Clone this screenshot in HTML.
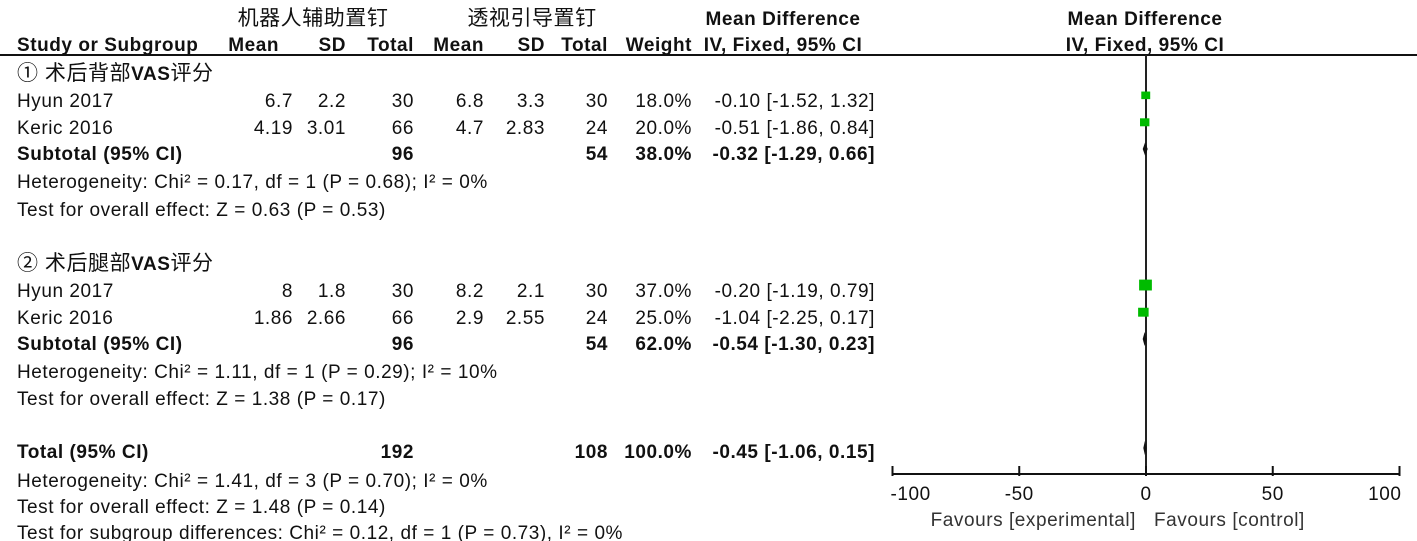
<!DOCTYPE html>
<html><head><meta charset="utf-8"><style>
html,body{margin:0;padding:0;background:#fff;}
svg{display:block;font-family:"Liberation Sans","Noto Sans CJK SC",sans-serif;font-size:19px;letter-spacing:0.55px;fill:#111;}
.b{font-weight:bold;}
.cj{font-size:21px;}
</style></head><body>
<svg id="chart" width="1417" height="541" viewBox="0 0 1417 541" xmlns="http://www.w3.org/2000/svg">
<g>
<text x="313" y="25" text-anchor="middle" class="cj">机器人辅助置钉</text>
<text x="532" y="25" text-anchor="middle" class="cj">透视引导置钉</text>
<text x="783" y="25" text-anchor="middle" class="b">Mean Difference</text>
<text x="1145" y="25" text-anchor="middle" class="b">Mean Difference</text>
<text x="17" y="51" class="b">Study or Subgroup</text>
<text x="279" y="51" text-anchor="end" class="b">Mean</text>
<text x="346" y="51" text-anchor="end" class="b">SD</text>
<text x="414" y="51" text-anchor="end" class="b">Total</text>
<text x="484" y="51" text-anchor="end" class="b">Mean</text>
<text x="545" y="51" text-anchor="end" class="b">SD</text>
<text x="608" y="51" text-anchor="end" class="b">Total</text>
<text x="692" y="51" text-anchor="end" class="b">Weight</text>
<text x="783" y="51" text-anchor="middle" class="b">IV, Fixed, 95% CI</text>
<text x="1145" y="51" text-anchor="middle" class="b">IV, Fixed, 95% CI</text>
<rect x="0" y="54" width="1417" height="2" fill="#111"/>
<text x="17" y="80"><tspan class="cj">① 术后背部</tspan><tspan class="b">VAS</tspan><tspan class="cj">评分</tspan></text>
<text x="17" y="270"><tspan class="cj">② 术后腿部</tspan><tspan class="b">VAS</tspan><tspan class="cj">评分</tspan></text>
</g>
<g id="table"></g>
<g id="plot"></g>
</svg>
<script>
const studies = ["Hyun 2017","Keric 2016","Hyun 2017","Keric 2016"];
const mean1 = ["6.7","4.19","8","1.86"];
const sd1 = ["2.2","3.01","1.8","2.66"];
const n1 = [30,66,30,66];
const mean2 = ["6.8","4.7","8.2","2.9"];
const sd2 = ["3.3","2.83","2.1","2.55"];
const n2 = [30,24,30,24];
const weights = [18.0,20.0,37.0,25.0];
const md = [-0.10,-0.51,-0.20,-1.04];
const lo = [-1.52,-1.86,-1.19,-2.25];
const hi = [1.32,0.84,0.79,0.17];
const sumLabels = ["Subtotal (95% CI)","Subtotal (95% CI)","Total (95% CI)"];
const sumN1 = [96,96,192];
const sumN2 = [54,54,108];
const sumW = [38.0,62.0,100.0];
const sumMd = [-0.32,-0.54,-0.45];
const sumLo = [-1.29,-1.30,-1.06];
const sumHi = [0.66,0.23,0.15];
const ticks = [-100,-50,0,50,100];
const NS="http://www.w3.org/2000/svg";
const X0=1146, SC=2.535, AXY=474;
function xs(v){return X0+v*SC;}
const table=document.getElementById('table'), plot=document.getElementById('plot');
function txt(parent,x,y,s,anchor,bold,name){
  const t=document.createElementNS(NS,'text');
  t.setAttribute('x',x);t.setAttribute('y',y);
  if(anchor)t.setAttribute('text-anchor',anchor);
  if(bold)t.setAttribute('class','b');
  t.textContent=s;
  
  
  parent.appendChild(t);return t;
}
function f2(v){return v.toFixed(2);}
const cols=[[mean1,293],[sd1,346],[n1,414],[mean2,484],[sd2,545],[n2,608]];
const stY=[107,134,297,324];
const mkY=[96,123,286,313];
for(let i=0;i<studies.length;i++){
  const y=stY[i];
  txt(table,17,y,studies[i],null,false,'study-name');
  cols.forEach(c=>txt(table,c[1],y,String(c[0][i]),'end',false,'study-value'));
  txt(table,692,y,weights[i].toFixed(1)+'%','end',false,'study-weight');
  txt(table,875,y,f2(md[i])+' ['+f2(lo[i])+', '+f2(hi[i])+']','end',false,'study-ci');
  const s=Math.sqrt(weights[i])*2.1;
  const r=document.createElementNS(NS,'rect');
  r.setAttribute('x',xs(md[i])-s/2);r.setAttribute('y',mkY[i]-s/2);
  r.setAttribute('width',s);r.setAttribute('height',s*0.85);r.setAttribute('fill','#00bb00');
  
  
  plot.appendChild(r);
}
const sY=[160,350,458], dY=[149,339,448];
for(let i=0;i<3;i++){
  const y=sY[i];
  txt(table,17,y,sumLabels[i],null,true,'summary-label');
  txt(table,414,y,String(sumN1[i]),'end',true,'summary-total1');
  txt(table,608,y,String(sumN2[i]),'end',true,'summary-total2');
  txt(table,692,y,sumW[i].toFixed(1)+'%','end',true,'summary-weight');
  txt(table,875,y,f2(sumMd[i])+' ['+f2(sumLo[i])+', '+f2(sumHi[i])+']','end',true,'summary-ci');
  const p=document.createElementNS(NS,'polygon');
  const c=dY[i];
  p.setAttribute('points',`${xs(sumLo[i])},${c} ${xs(sumMd[i])},${c-7} ${xs(sumHi[i])},${c} ${xs(sumMd[i])},${c+7}`);
  p.setAttribute('fill','#111');
  
  
  plot.appendChild(p);
}
txt(table,17,188,'Heterogeneity: Chi² = 0.17, df = 1 (P = 0.68); I² = 0%',null,false,'heterogeneity-1');
txt(table,17,216,'Test for overall effect: Z = 0.63 (P = 0.53)',null,false,'overall-effect-1');
txt(table,17,378,'Heterogeneity: Chi² = 1.11, df = 1 (P = 0.29); I² = 10%',null,false,'heterogeneity-2');
txt(table,17,405,'Test for overall effect: Z = 1.38 (P = 0.17)',null,false,'overall-effect-2');
txt(table,17,487,'Heterogeneity: Chi² = 1.41, df = 3 (P = 0.70); I² = 0%',null,false,'heterogeneity-total');
txt(table,17,513,'Test for overall effect: Z = 1.48 (P = 0.14)',null,false,'overall-effect-total');
txt(table,17,539,'Test for subgroup differences: Chi² = 0.12, df = 1 (P = 0.73), I² = 0%',null,false,'subgroup-differences');
const zl=document.createElementNS(NS,'line');
zl.setAttribute('x1',xs(0));zl.setAttribute('x2',xs(0));zl.setAttribute('y1',55);zl.setAttribute('y2',AXY);
zl.setAttribute('stroke','#222');zl.setAttribute('stroke-width',2);


plot.insertBefore(zl,plot.firstChild);
const ax=document.createElementNS(NS,'line');
ax.setAttribute('x1',xs(-100));ax.setAttribute('x2',xs(100));ax.setAttribute('y1',AXY);ax.setAttribute('y2',AXY);
ax.setAttribute('stroke','#111');ax.setAttribute('stroke-width',2);


plot.appendChild(ax);
ticks.forEach(t=>{
  const l=document.createElementNS(NS,'line');
  l.setAttribute('x1',xs(t));l.setAttribute('x2',xs(t));l.setAttribute('y1',AXY-8);l.setAttribute('y2',AXY+2);
  l.setAttribute('stroke','#111');l.setAttribute('stroke-width',2);
  
  
  plot.appendChild(l);
  const anchor=t===-100?'start':(t===100?'end':'middle');
  txt(plot,t===-100?xs(t)-2:(t===100?xs(t)+2:xs(t)),AXY+26,String(t),anchor,false,'x-tick-label');
});
const fe=txt(plot,1136,526,'Favours [experimental]','end',false,'favours-experimental');fe.setAttribute('fill','#333');
const fc=txt(plot,1154,526,'Favours [control]','start',false,'favours-control');fc.setAttribute('fill','#333');
</script>
</body></html>
